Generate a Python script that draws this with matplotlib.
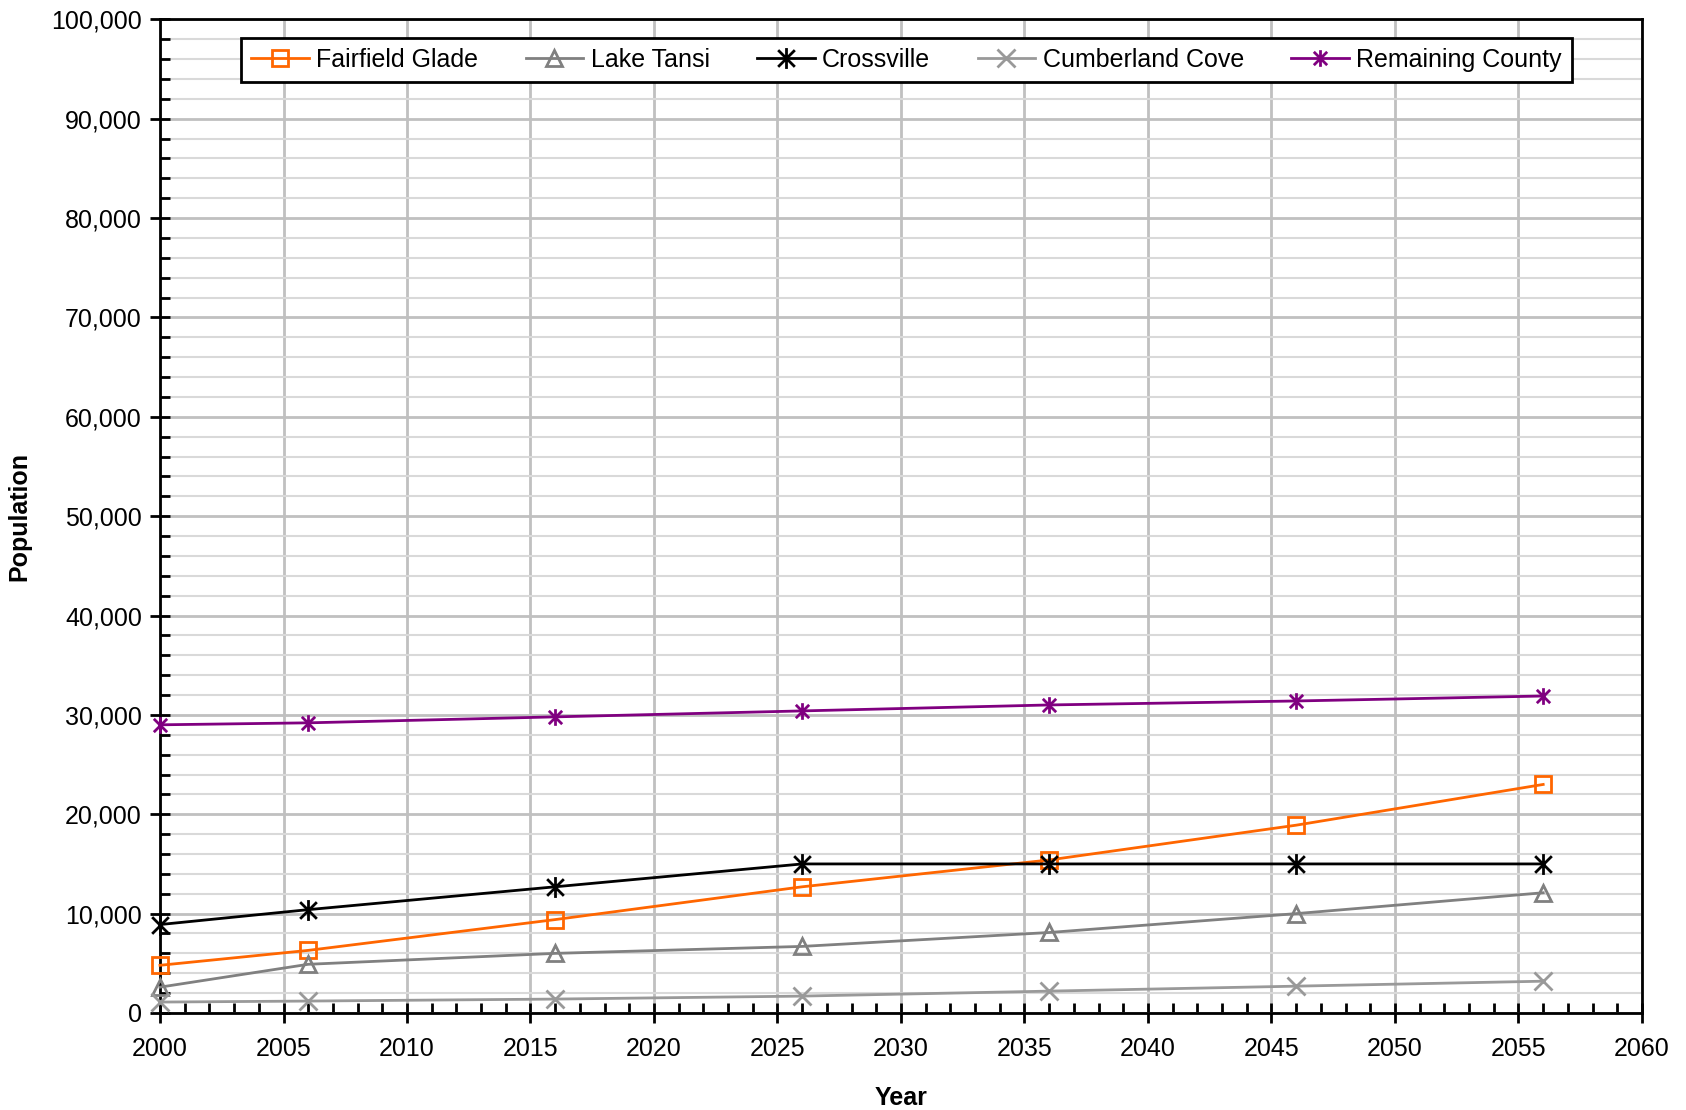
import matplotlib
matplotlib.use("Agg")
import matplotlib.pyplot as plt
from matplotlib.path import Path
from matplotlib.ticker import MultipleLocator, FuncFormatter

plt.rcParams['font.family'] = ['Liberation Sans', 'DejaVu Sans']

years = [2000, 2006, 2016, 2026, 2036, 2046, 2056]
fairfield_glade = [4800, 6300, 9400, 12700, 15400, 18900, 23000]
lake_tansi = [2600, 4900, 6000, 6700, 8100, 10000, 12100]
crossville = [8900, 10400, 12700, 15000, 15000, 15000, 15000]
cumberland_cove = [1100, 1200, 1400, 1700, 2200, 2700, 3200]
remaining_county = [29000, 29200, 29800, 30400, 31000, 31400, 31900]

series_names = ["Fairfield Glade", "Lake Tansi", "Crossville", "Cumberland Cove", "Remaining County"]

star = Path([(-1, -1), (1, 1), (-1, 1), (1, -1), (0, -1.25), (0, 1.25)],
            [Path.MOVETO, Path.LINETO, Path.MOVETO, Path.LINETO, Path.MOVETO, Path.LINETO])

fig = plt.figure(figsize=(16.86, 11.10), dpi=100)
ax = fig.add_axes([0.0949, 0.0874, 0.879, 0.8952])

styles = [
    (fairfield_glade, '#FF6600', 's', 11.5, 'none'),
    (lake_tansi, '#808080', '^', 12, 'none'),
    (crossville, '#000000', star, 15, 'none'),
    (cumberland_cove, '#999999', 'x', 13, 'none'),
    (remaining_county, '#800080', star, 12, 'none'),
]
for (vals, color, mk, ms, fc), name in zip(styles, series_names):
    ax.plot(years, vals, color=color, lw=2, marker=mk, ms=ms, mfc=fc, mec=color,
            mew=2, label=name, clip_on=False, zorder=3)

ax.set_xlim(2000, 2060)
ax.set_ylim(0, 100000)
ax.xaxis.set_major_locator(MultipleLocator(5))
ax.xaxis.set_minor_locator(MultipleLocator(1))
ax.yaxis.set_major_locator(MultipleLocator(10000))
ax.yaxis.set_minor_locator(MultipleLocator(2000))
ax.yaxis.set_major_formatter(FuncFormatter(lambda v, p: f"{int(v):,}"))

ax.grid(which='minor', axis='y', color='#D9D9D9', lw=1.5, zorder=0)
ax.grid(which='major', axis='y', color='#C0C0C0', lw=2, zorder=0)
ax.grid(which='major', axis='x', color='#C0C0C0', lw=2, zorder=0)
ax.set_axisbelow(True)

for s in ax.spines.values():
    s.set_linewidth(2)
    s.set_color('black')

ax.tick_params(which='major', direction='inout', length=14, width=2, labelsize=18, pad=6)
ax.tick_params(which='minor', direction='in', length=7, width=2)
ax.tick_params(axis='x', pad=10)

ax.set_xlabel('Year', fontsize=18, fontweight='bold', labelpad=18)
ax.set_ylabel('Population', fontsize=18, fontweight='bold', labelpad=14)

leg = ax.legend(loc='upper left', bbox_to_anchor=(0.0547, 0.981), ncol=5, fontsize=18,
                frameon=True, fancybox=False, edgecolor='black', framealpha=1,
                handlelength=2.3, columnspacing=1.9, handletextpad=0.3, borderpad=0.4,
                borderaxespad=0)
leg.get_frame().set_linewidth(2)

fig.savefig('out.png', dpi=100)
